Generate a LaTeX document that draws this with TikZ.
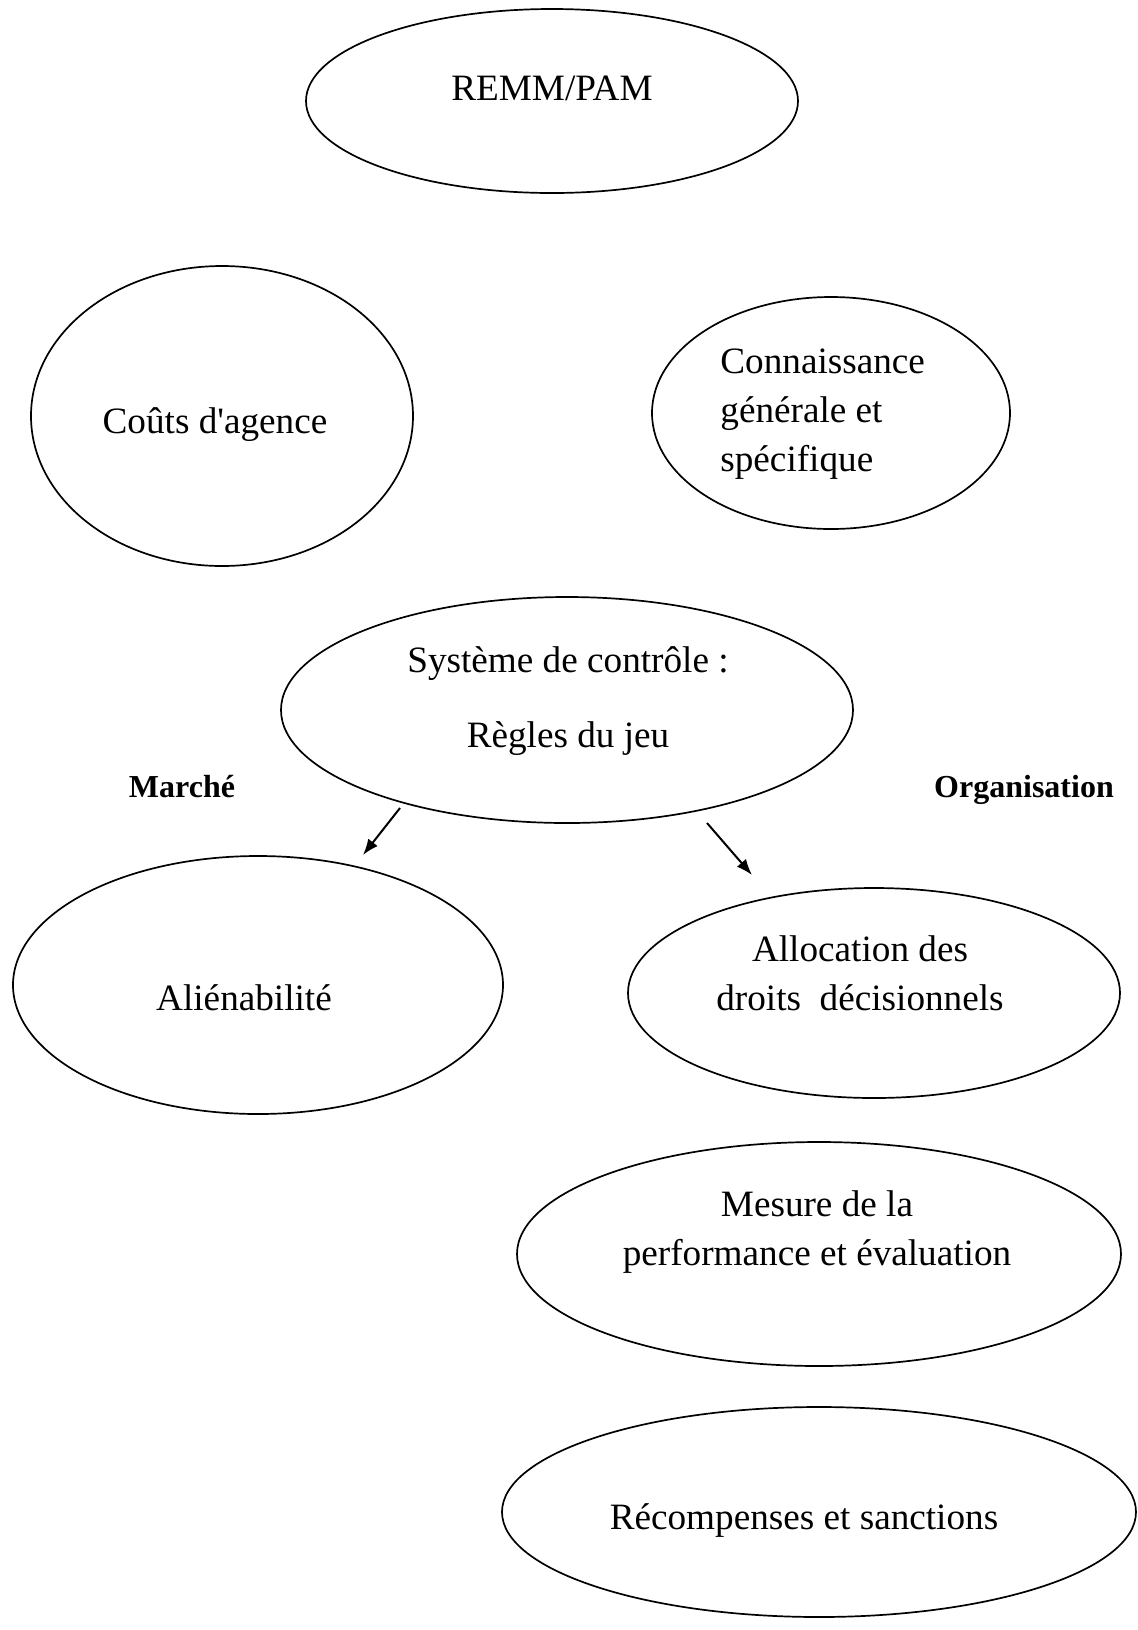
\documentclass[tikz,border=0pt]{standalone}
\usepackage{fontspec}
\setmainfont{Liberation Serif}[Ligatures=TeXOff]
\usetikzlibrary{shapes.geometric,arrows.meta}
\tikzset{
  ell/.style 2 args={draw, line width=0.85pt, ellipse, inner sep=0pt, minimum width=#1pt, minimum height=#2pt},
  txt/.style={anchor=base, align=center, inner sep=0pt, font=\fontsize{18.6pt}{24.5pt}\selectfont},
  side/.style={anchor=base, inner sep=0pt, font=\fontsize{16pt}{19pt}\selectfont\bfseries},
  conn/.style={line width=1pt, -{Latex[length=8pt,width=6pt]}}
}
\begin{document}
\begin{tikzpicture}[x=0.5pt,y=-0.5pt]
\useasboundingbox (0,0) rectangle (1137,1630);
% ellipses
\node[ell={246}{92}]  (remm) at (552,101) {};
\node[ell={191}{150}] (couts) at (222,416) {};
\node[ell={179}{116}] (conn) at (831,413) {};
\node[ell={286}{113}] (sys) at (567,710) {};
\node[ell={245}{129}] (alien) at (258,985) {};
\node[ell={246}{105}] (alloc) at (874,993) {};
\node[ell={302}{112}] (mesure) at (819,1254) {};
\node[ell={317}{105}] (recomp) at (819,1512) {};
% texts (multi-line nodes: base = last line's baseline)
\node[txt] (tremm) at (552,100) {REMM/PAM};
\node[txt] (tcouts) at (215,433) {Coûts d'agence};
\node[txt, align=left, anchor=base west] (tconn) at (720,471) {Connaissance\\générale et\\spécifique};
\node[txt] (tsys) at (568,747) {Système de contrôle :\\[13pt]Règles du jeu};
\node[txt] (talien) at (244,1010) {Aliénabilité};
\node[txt] (talloc) at (860,1010) {Allocation des\\droits\ \ décisionnels};
\node[txt] (tmesure) at (817,1265) {Mesure de la\\performance et évaluation};
\node[txt] (trecomp) at (804,1529) {Récompenses et sanctions};
\node[side] (marche) at (182,797) {Marché};
\node[side] (orga) at (1024,797) {Organisation};
% arrows
\coordinate (a1s) at (400,808);
\coordinate (a1e) at (363,855);
\coordinate (a2s) at (707,823);
\coordinate (a2e) at (752,875);
\draw[conn] (a1s) -- (a1e);
\draw[conn] (a2s) -- (a2e);
\end{tikzpicture}
\end{document}
